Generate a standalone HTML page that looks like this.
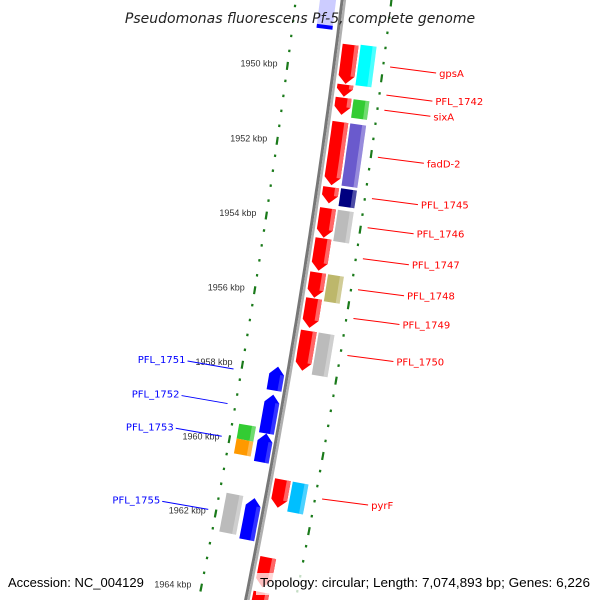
<!DOCTYPE html>
<html><head><meta charset="utf-8"><style>
html,body{margin:0;padding:0;background:#fff;overflow:hidden;width:600px;height:600px;}
svg{display:block;font-family:"Liberation Sans","DejaVu Sans",sans-serif;}
</style></head><body>
<svg id="map" width="600" height="600" viewBox="0 0 600 600" xmlns="http://www.w3.org/2000/svg" overflow="hidden">
<g id="rings"></g>
<g id="backbone"></g>
<g id="features"></g>
<g id="labels"></g>
<text x="300" y="23" text-anchor="middle" font-style="italic" font-size="14" fill="#222" style="font-family:'DejaVu Sans',sans-serif">Pseudomonas fluorescens Pf-5, complete genome</text>
<rect x="256" y="573" width="338" height="22" fill="#fff" opacity="0.75"/>
<text x="8" y="587" font-size="13" fill="#000">Accession: NC_004129</text>
<text x="260" y="587" font-size="13" fill="#000" textLength="330" lengthAdjust="spacingAndGlyphs">Topology: circular; Length: 7,074,893 bp; Genes: 6,226</text>
</svg>
<script>
// ---- data (kbp) ----
const fwdStarts = [1949.23,1950.29,1950.64,1951.28,1953.01,1953.57,1954.37,1955.28,1955.97,1956.83,1960.80,1962.88,1963.81];
const fwdEnds   = [1950.27,1950.61,1951.09,1952.96,1953.44,1954.35,1955.23,1955.95,1956.75,1957.89,1961.55,1963.68,1964.60];
const cogStarts = [1949.20,1950.64,1951.28,1953.00,1953.57,1955.28,1956.83,1960.80];
const cogEnds   = [1950.27,1951.13,1952.93,1953.47,1954.40,1956.00,1957.95,1961.60];
const cogColors = ['#00ffff','#33cc33','#6a5acd','#000080','#bbbbbb','#bdb76b','#bbbbbb','#00bfff'];
const revStarts = [1957.89,1958.64,1959.68,1961.41];
const revEnds   = [1958.53,1959.68,1960.45,1962.53];
const revCogStarts = [1959.55,1959.95,1961.41];
const revCogEnds   = [1959.95,1960.35,1962.45];
const revCogColors = ['#33cc33','#ff9900','#bbbbbb'];
const tickLabels = [1950,1952,1954,1956,1958,1960,1962,1964];
const rightLabels = ['gpsA','PFL_1742','sixA','fadD-2','PFL_1745','PFL_1746','PFL_1747','PFL_1748','PFL_1749','PFL_1750','pyrF'];
const rightLabelKbp = [1949.68,1950.42,1950.82,1952.06,1953.15,1953.92,1954.74,1955.56,1956.32,1957.30,1961.11];
const leftLabels = ['PFL_1751','PFL_1752','PFL_1753','PFL_1755'];
const leftLabelKbp = [1958.15,1959.08,1959.96,1961.93];

// ---- geometry ----
const CX=-7598, CY=-969, RB=8000;
function ang(k){return 0.1305+(k-1950)*0.00475;}
function pt(k,r){const t=ang(k);return [CX+r*Math.cos(t),CY+r*Math.sin(t)];}
const NS='http://www.w3.org/2000/svg';
function mk(tag,parent){const e=document.createElementNS(NS,tag);parent.appendChild(e);return e;}
function arcPts(k1,k2,r){const a=[];const n=Math.max(2,Math.ceil((k2-k1)*6));for(let i=0;i<=n;i++){a.push(pt(k1+(k2-k1)*i/n,r));}return a;}
function poly(points,fill,parent){const p=mk('polygon',parent);p.setAttribute('points',points.map(q=>q[0].toFixed(1)+','+q[1].toFixed(1)).join(' '));p.setAttribute('fill',fill);return p;}
function block(k1,k2,r1,r2){return arcPts(k1,k2,r2).concat(arcPts(k1,k2,r1).reverse());}
function arrow(k1,k2,r1,r2,dir){const h=0.21;const rm=(r1+r2)/2;
 if(dir>0){const b=Math.max(k1,k2-h);return arcPts(k1,b,r2).concat([pt(k2,rm)]).concat(arcPts(k1,b,r1).reverse());}
 const b=Math.min(k2,k1+h);return [pt(k1,rm)].concat(arcPts(b,k2,r2)).concat(arcPts(b,k2,r1).reverse());}

// rings
const rings=document.getElementById('rings');
[7953,8048].forEach((r,ri)=>{
 for(let i=0;i<=45;i++){const k=1947.2+i*0.4;const major=Math.abs(k/2-Math.round(k/2))<0.01;
  const len=major?8:2.5;
  const poly1=block(k-(len/2)/38,k+(len/2)/38,r-1.1,r+1.1);
  const p=poly(poly1,'#1a7a1a',rings);
  
  
 }});
tickLabels.forEach(k=>{const [x,y]=pt(k,7943);const t=mk('text',rings);
 t.setAttribute('x',x.toFixed(1));t.setAttribute('y',(y+2).toFixed(1));t.setAttribute('text-anchor','end');
 t.setAttribute('font-size','9');t.setAttribute('fill','#333');t.textContent=k+' kbp';
 
 });

// backbone
const bb=document.getElementById('backbone');
let p1=poly(block(1946,1966,7997.5,8000.5),'#777',bb);


let p2=poly(block(1946,1966,8000.5,8003),'#b0b0b0',bb);



const feats=document.getElementById('features');
let tf=poly(block(1947.9,1948.9,7977,7993),'#ccccff',feats);


poly(block(1948.8,1948.9,7977,7993),'#0000ff',feats);
poly(block(1947.9,1948.0,7977,7993),'#0000ff',feats);

fwdStarts.forEach((s,i)=>{const e=fwdEnds[i];
 const p=poly(arrow(s,e,8005,8021,1),'#ff0000',feats);
 
 
 poly(block(s,Math.max(s,e-0.21),8017,8021),'#ff6666',feats);});
cogStarts.forEach((s,i)=>{const e=cogEnds[i];
 const p=poly(block(s,e,8023,8039),cogColors[i],feats);
 
 
 const h=poly(block(s,e,8035,8039),'#ffffff',feats);h.setAttribute('opacity','0.3');});
revStarts.forEach((s,i)=>{const e=revEnds[i];
 const p=poly(arrow(s,e,7981,7996,-1),'#0000ff',feats);
 
 
 const h=poly(block(Math.min(e,s+0.21),e,7992,7996),'#ffffff',feats);h.setAttribute('opacity','0.2');});
revCogStarts.forEach((s,i)=>{const e=revCogEnds[i];
 const p=poly(block(s,e,7960,7977),revCogColors[i],feats);
 
 
 const h=poly(block(s,e,7973,7977),'#ffffff',feats);h.setAttribute('opacity','0.3');});

// labels
const lab=document.getElementById('labels');
rightLabels.forEach((n,i)=>{const [x,y]=pt(rightLabelKbp[i],8055);
 const l=mk('line',lab);l.setAttribute('x1',x);l.setAttribute('y1',y);l.setAttribute('x2',x+46);l.setAttribute('y2',y+6);
 l.setAttribute('stroke','#ff0000');l.setAttribute('stroke-width','1');
 
 
 const t=mk('text',lab);t.setAttribute('x',x+49);t.setAttribute('y',y+10);t.setAttribute('font-size','10');t.setAttribute('fill','#ff0000');
 t.setAttribute('style',"font-family:'DejaVu Sans',sans-serif");
 t.textContent=n;
 
 });
leftLabels.forEach((n,i)=>{const [x,y]=pt(leftLabelKbp[i],7945);
 const l=mk('line',lab);l.setAttribute('x1',x);l.setAttribute('y1',y);l.setAttribute('x2',x-46);l.setAttribute('y2',y-8);
 l.setAttribute('stroke','#0000ff');l.setAttribute('stroke-width','1');
 
 
 const t=mk('text',lab);t.setAttribute('x',x-48);t.setAttribute('y',y-6);t.setAttribute('text-anchor','end');t.setAttribute('font-size','10');t.setAttribute('fill','#0000ff');
 t.setAttribute('style',"font-family:'DejaVu Sans',sans-serif");
 t.textContent=n;
 
 });
</script>
</body></html>
